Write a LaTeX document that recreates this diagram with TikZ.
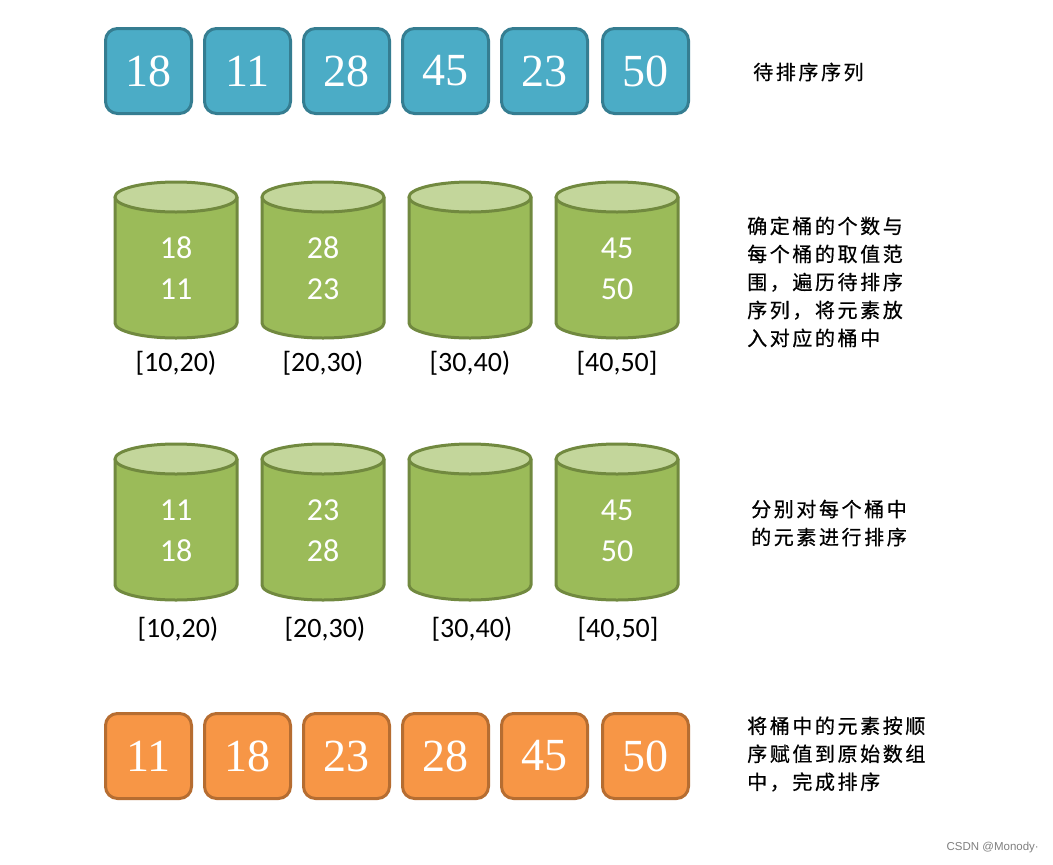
\documentclass[tikz,border=0pt]{standalone}
\usepackage{fontspec}
\setmainfont{Liberation Serif}
\newfontfamily\cali{Carlito}
\newfontfamily\cjk[LetterSpace=13,FakeBold=0.6]{Noto Sans CJK SC}
\newfontfamily\wmfont{Liberation Sans}
\definecolor{bluefill}{HTML}{4BACC6}
\definecolor{bluedraw}{HTML}{357D91}
\definecolor{orangefill}{HTML}{F79646}
\definecolor{orangedraw}{HTML}{B66D31}
\definecolor{cylbody}{HTML}{9BBB59}
\definecolor{cyltop}{HTML}{C3D69B}
\definecolor{cyldraw}{HTML}{71893F}
\tikzset{
  numbox/.style={rectangle, rounded corners=12pt, line width=3pt, minimum width=86pt,
    minimum height=85pt, text=white, inner sep=0pt, font=\fontsize{46}{46}\selectfont},
  bluebox/.style={numbox, fill=bluefill, draw=bluedraw},
  orangebox/.style={numbox, fill=orangefill, draw=orangedraw},
  cylnum/.style={text=white, font=\cali\fontsize{32}{32}\selectfont, inner sep=0pt},
  rangelbl/.style={text=black, font=\cali\fontsize{28}{28}\selectfont, inner sep=0pt},
  note/.style={anchor=west, align=left, inner sep=0pt, text=black,
    font=\cjk\fontsize{20}{28}\selectfont},
  cylline/.style={line width=3pt, draw=cyldraw, line join=round}
}
\newcommand{\mycyl}[3]{% cx, ytop, ybot (screen px)
  \filldraw[cylline, fill=cylbody] (#1-61,-#2) -- (#1-61,-#3)
    arc[start angle=180, end angle=360, x radius=61pt, y radius=15pt] -- (#1+61,-#2) -- cycle;
  \filldraw[cylline, fill=cyltop] (#1,-#2) ellipse[x radius=61pt, y radius=15pt];
}
\begin{document}
\begin{tikzpicture}[x=1pt,y=1pt]
\useasboundingbox[fill=white] (0,0) rectangle (1053,-865);

% top row
\foreach \v/\x [count=\i] in {18/148.5,11/247.5,28/346.5,45/445.5,23/544.5,50/645.5}
  \node[bluebox] (b\i) at (\x,-71) {\v};
\node[note] (t1) at (753,-72) {待排序序列};

% bucket row 1
\foreach \x [count=\i] in {176,323,470,617} {
  \mycyl{\x}{197}{323}
}
\node[cylnum] (c1a) at (176,-248) {18};
\node[cylnum] (c1b) at (176,-289) {11};
\node[cylnum] (c2a) at (323,-248) {28};
\node[cylnum] (c2b) at (323,-289) {23};
\node[cylnum] (c4a) at (617,-248) {45};
\node[cylnum] (c4b) at (617,-289) {50};
\node[rangelbl] (r1) at (176,-363) {[10,20)};
\node[rangelbl] (r2) at (323,-363) {[20,30)};
\node[rangelbl] (r3) at (470,-363) {[30,40)};
\node[rangelbl] (r4) at (617,-363) {[40,50]};
\node[note] (t2) at (747,-282) {确定桶的个数与\\每个桶的取值范\\围，遍历待排序\\序列，将元素放\\入对应的桶中};

% bucket row 2
\foreach \x [count=\i] in {176,323,470,617} {
  \mycyl{\x}{459}{585}
}
\node[cylnum] (d1a) at (176,-510) {11};
\node[cylnum] (d1b) at (176,-551) {18};
\node[cylnum] (d2a) at (323,-510) {23};
\node[cylnum] (d2b) at (323,-551) {28};
\node[cylnum] (d4a) at (617,-510) {45};
\node[cylnum] (d4b) at (617,-551) {50};
\node[rangelbl] (s1) at (178,-629) {[10,20)};
\node[rangelbl] (s2) at (325,-629) {[20,30)};
\node[rangelbl] (s3) at (472,-629) {[30,40)};
\node[rangelbl] (s4) at (618,-629) {[40,50]};
\node[note] (t3) at (751,-523) {分别对每个桶中\\的元素进行排序};

% result row
\foreach \v/\x [count=\i] in {11/148.5,18/247.5,23/346.5,28/445.5,45/544.5,50/645.5}
  \node[orangebox] (o\i) at (\x,-756) {\v};
\node[note] (t4) at (747,-754) {将桶中的元素按顺\\序赋值到原始数组\\中，完成排序};

% watermark
\node[anchor=east, inner sep=0pt, text=black!50, font=\wmfont\fontsize{11.5}{12}\selectfont] (wm) at (1039,-848) {CSDN @Monody·};
\end{tikzpicture}
\end{document}
